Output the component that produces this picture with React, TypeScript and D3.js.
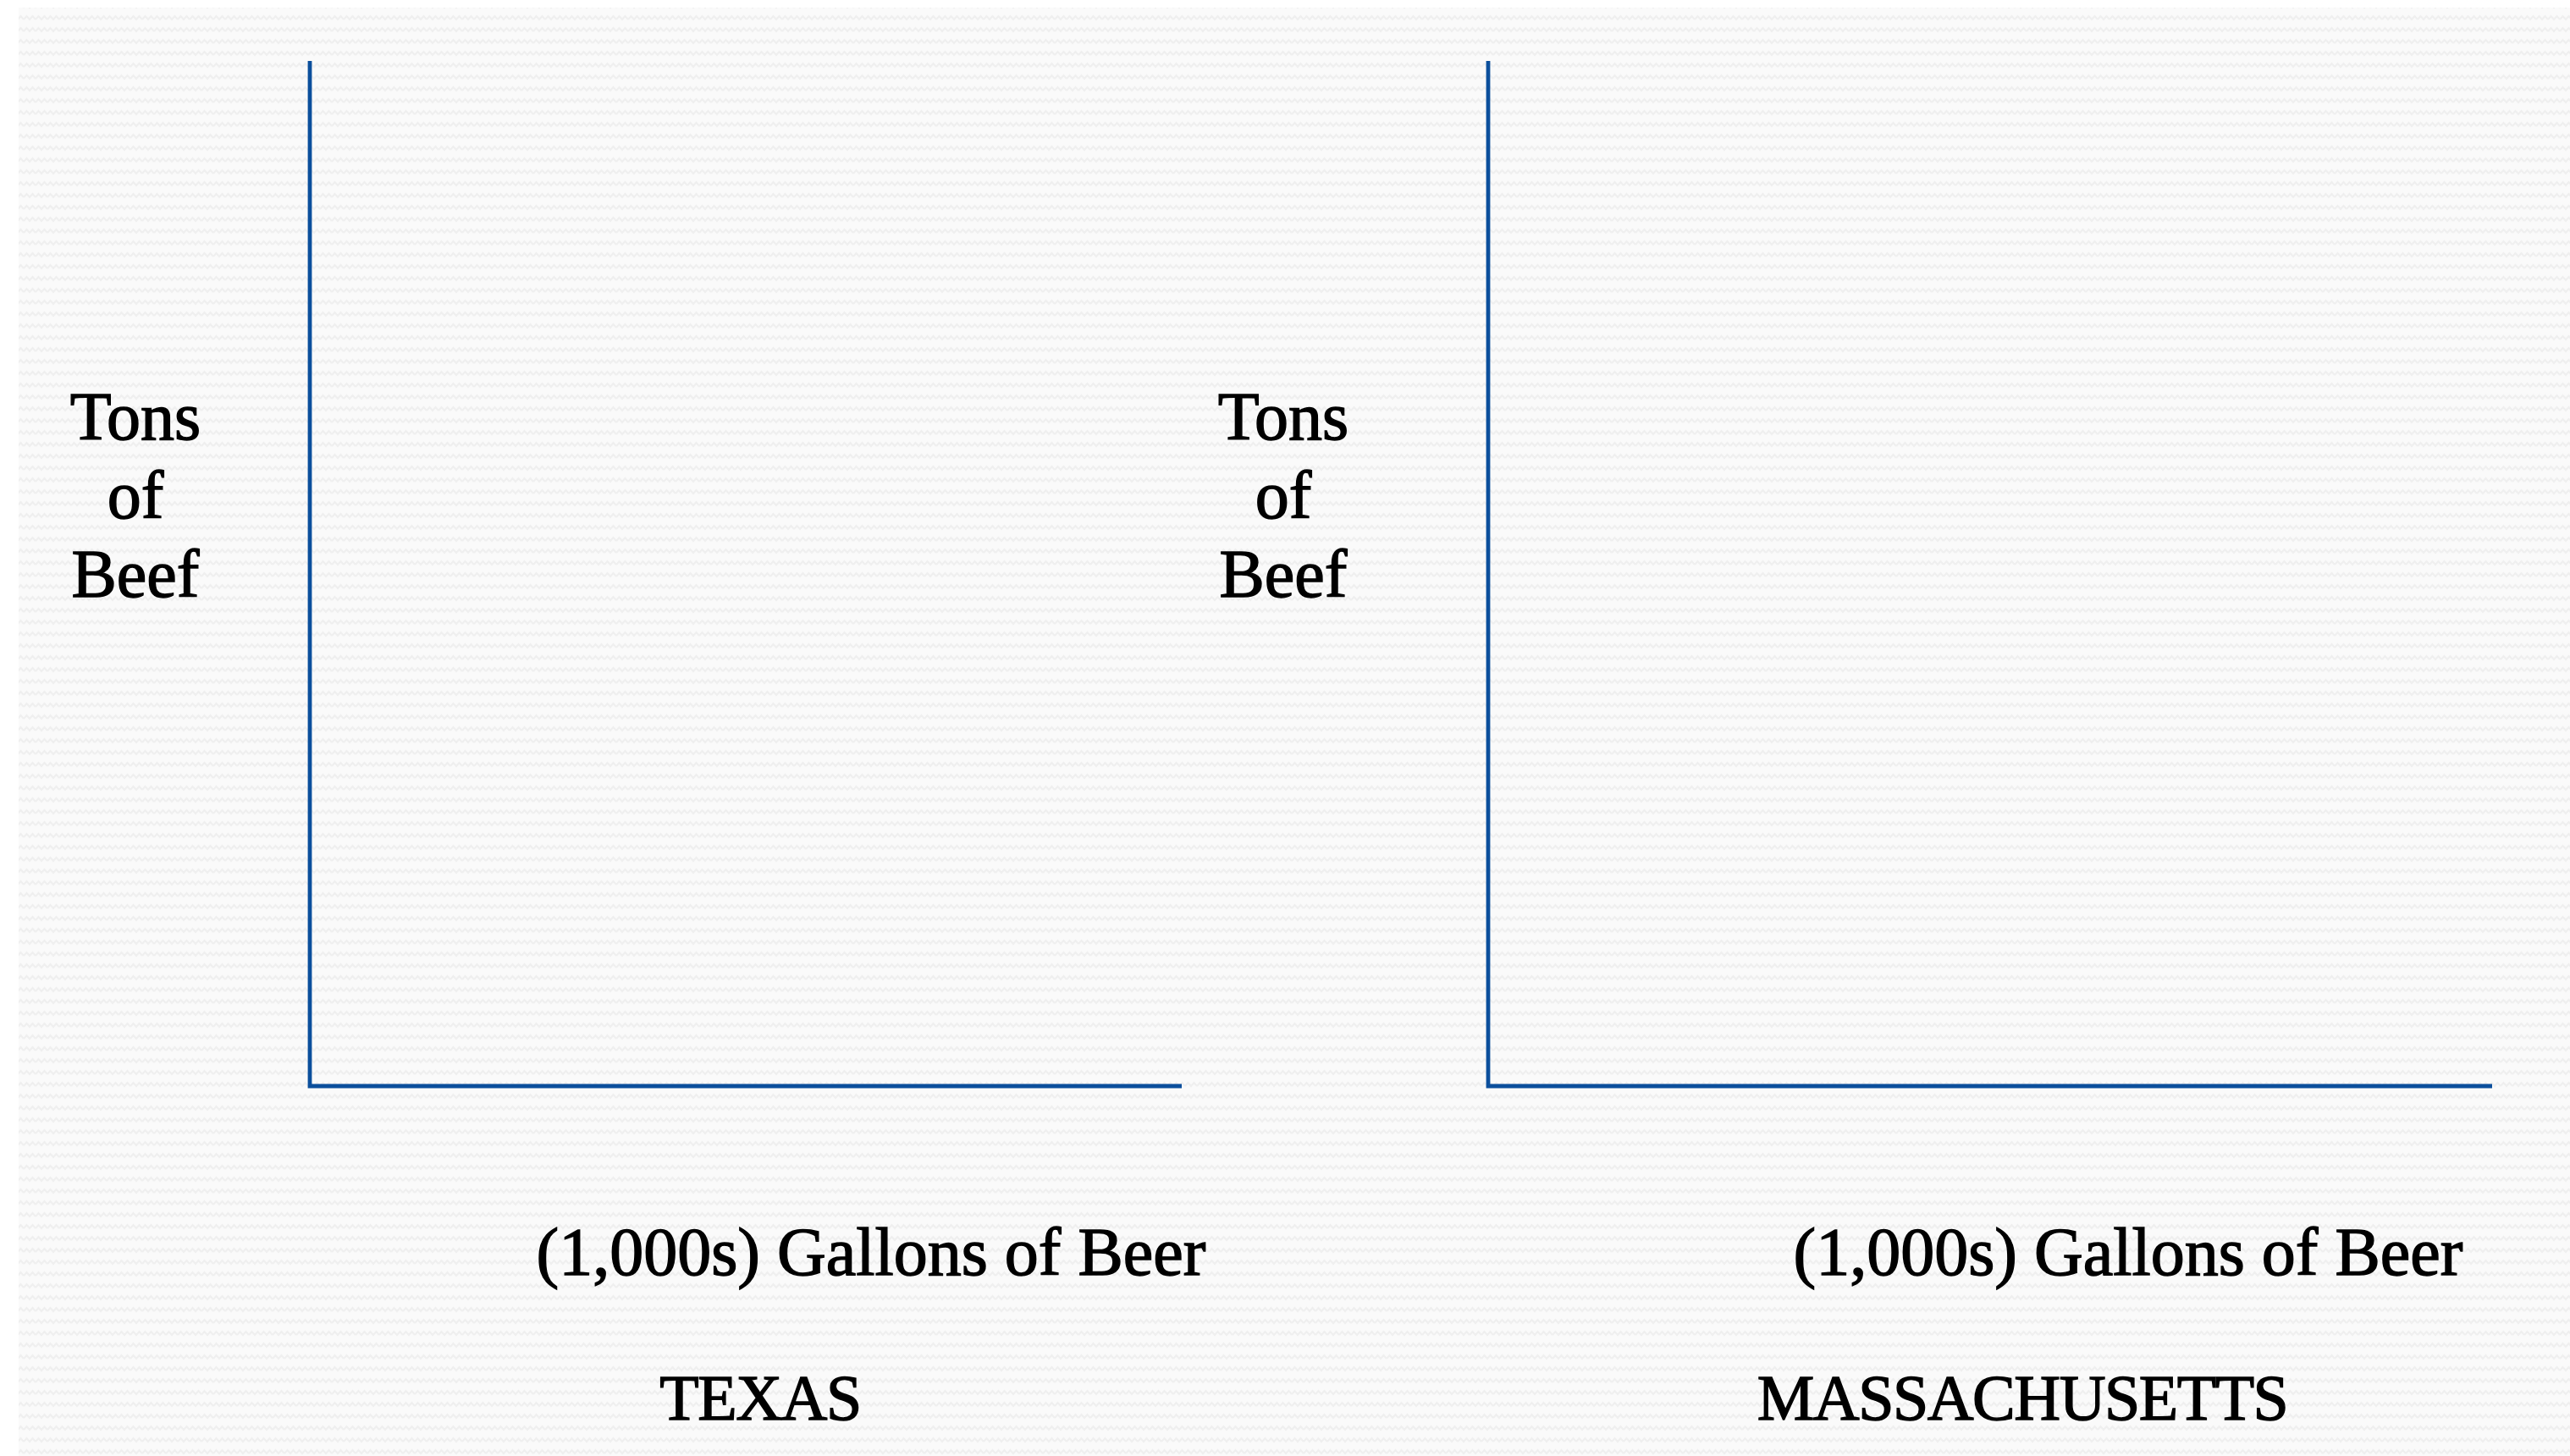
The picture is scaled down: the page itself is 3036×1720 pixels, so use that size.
import * as d3 from 'd3'

// two empty diagrams, one per state
const states = ['TEXAS', 'MASSACHUSETTS']
const yLabelLines = ['Tons', 'of', 'Beef']
const xLabel = '(1,000s) Gallons of Beer'
const axisDomain: [number, number] = [0, 1]

const W = 3036
const H = 1720
const AXIS = '#0b4f9c'
const FONT = '"Liberation Serif", "DejaVu Serif", serif'

// per panel frame (pixel extents of the axes + label anchors)
const frames = [
  { left: 366, right: 1396, top: 72, bottom: 1283, yLabelX: 160, xLabelX: 1029, titleX: 898 },
  { left: 1758, right: 2944, top: 72, bottom: 1283, yLabelX: 1516, xLabelX: 2514, titleX: 2389 },
]

const textProps = {
  fontFamily: FONT,
  fill: '#000',
  stroke: '#000',
  strokeWidth: 1.4,
  textAnchor: 'middle' as const,
}

function Panel({ name, f }: { name: string; f: (typeof frames)[number] }) {
  const x = d3.scaleLinear().domain(axisDomain).range([f.left, f.right])
  const y = d3.scaleLinear().domain(axisDomain).range([f.bottom, f.top])
  const axisPath = d3.line<[number, number]>()
    .x((d) => x(d[0]))
    .y((d) => y(d[1]))([
    [0, 1],
    [0, 0],
    [1, 0],
  ])
  return (
    <g>
      <path d={axisPath ?? ''} fill="none" stroke={AXIS} strokeWidth={4.8} strokeLinejoin="miter" />
      <text x={f.yLabelX} y={519} fontSize={80} {...textProps}>
        {yLabelLines.map((line, i) => (
          <tspan key={line} x={f.yLabelX} dy={i === 0 ? 0 : 93}>
            {line}
          </tspan>
        ))}
      </text>
      <text x={f.xLabelX} y={1506} fontSize={80} {...textProps}>
        {xLabel}
      </text>
      <text x={f.titleX} y={1677} fontSize={76} letterSpacing={-1.5} {...textProps}>
        {name}
      </text>
    </g>
  )
}

export default function App() {
  return (
    <div style={{ position: 'fixed', left: 0, top: 0, width: W, height: H, background: '#fff' }}>
      <svg width={W} height={H} style={{ display: 'block' }}>
        <defs>
          <pattern id="zigzag" width={14} height={14} patternUnits="userSpaceOnUse">
            <rect width={14} height={14} fill="#fafafa" />
            <polyline points="0,9 3.5,5 7,9 10.5,5 14,9" fill="none" stroke="#efefef" strokeWidth={2} />
          </pattern>
        </defs>
        <rect x={0} y={0} width={W} height={H} fill="#fff" />
        <rect x={22} y={9} width={W - 22} height={H - 9} fill="url(#zigzag)" />
        {states.map((s, i) => (
          <Panel key={s} name={s} f={frames[i]} />
        ))}
      </svg>
    </div>
  )
}
